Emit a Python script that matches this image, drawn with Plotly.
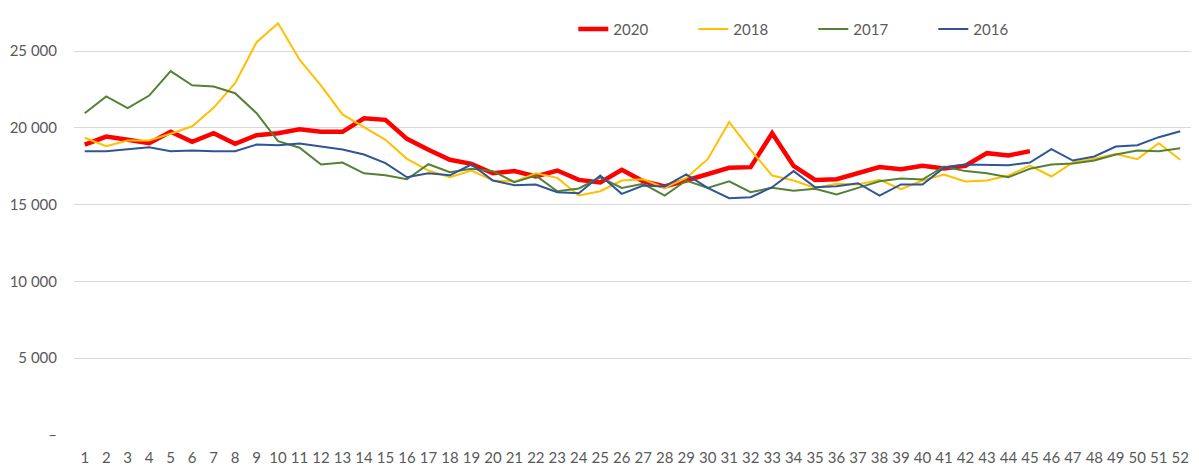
import plotly.graph_objects as go

weeks = [str(i) for i in range(1, 53)]

y2020 = [18910, 19430, 19220, 19000, 19740, 19090, 19650, 18960, 19520, 19650,
         19910, 19740, 19740, 20620, 20520, 19280, 18570, 17920, 17650, 17040,
         17180, 16830, 17220, 16610, 16440, 17270, 16520, 16180, 16570, 16960,
         17400, 17440, 19650, 17520, 16610, 16650, 17040, 17440, 17300, 17530,
         17350, 17530, 18350, 18200, 18480]

y2018 = [19350, 18800, 19170, 19170, 19610, 20100, 21300, 22900, 25570, 26810,
         24430, 22750, 20870, 20040, 19220, 17980, 17220, 16780, 17220, 16570,
         16500, 17040, 16740, 15590, 15870, 16570, 16650, 16090, 16740, 17960,
         20370, 18570, 16890, 16570, 16090, 16350, 16310, 16610, 16000, 16570,
         16960, 16500, 16570, 16890, 17545, 16830, 17740, 17980, 18300, 17960,
         19000, 17920]

y2017 = [20950, 22040, 21280, 22100, 23690, 22770, 22690, 22250, 20950, 19130,
         18700, 17610, 17740, 17040, 16910, 16650, 17630, 17110, 17330, 17180,
         16460, 16890, 15870, 16050, 16780, 16090, 16350, 15590, 16570, 16090,
         16520, 15810, 16090, 15900, 16030, 15660, 16090, 16520, 16700, 16630,
         17480, 17180, 17040, 16780, 17330, 17610, 17680, 17870, 18260, 18520,
         18480, 18670]

y2016 = [18480, 18480, 18610, 18740, 18480, 18520, 18480, 18480, 18910, 18870,
         18980, 18780, 18590, 18260, 17700, 16780, 17040, 16910, 17610, 16570,
         16260, 16310, 15810, 15740, 16890, 15700, 16240, 16180, 16960, 16090,
         15420, 15480, 16130, 17180, 16130, 16200, 16390, 15590, 16310, 16310,
         17400, 17610, 17570, 17570, 17740, 18610, 17870, 18130, 18780, 18870,
         19390, 19780]

tick_vals = [0, 5000, 10000, 15000, 20000, 25000]
tick_text = ["–", "5 000", "10 000", "15 000", "20 000", "25 000"]

series = [
    ("2020", y2020, "#FF0000", 4.5),
    ("2018", y2018, "#FFC000", 2),
    ("2017", y2017, "#548235", 2),
    ("2016", y2016, "#2F5597", 2),
]

fig = go.Figure()
for name, ys, color, w in series:
    fig.add_trace(go.Scatter(
        x=weeks[:len(ys)], y=ys, mode="lines", name=name,
        line=dict(color=color, width=w),
    ))

fig.update_layout(
    width=1191, height=462,
    margin=dict(l=66, r=8, t=0, b=35, autoexpand=False),
    paper_bgcolor="white", plot_bgcolor="white",
    font=dict(family="Lato, Open Sans, sans-serif", size=15, color="#595959"),
    showlegend=True,
    legend=dict(
        orientation="h", x=0.447, y=0.95, xanchor="left", yanchor="middle",
        entrywidth=75, entrywidthmode="pixels",
        font=dict(size=15, color="#595959"),
        bgcolor="rgba(0,0,0,0)", traceorder="normal",
    ),
    xaxis=dict(
        type="category", categoryorder="array", categoryarray=weeks,
        range=[-0.5, 51.5],
        showgrid=False, showline=False, zeroline=False,
        ticks="", ticklabelstandoff=12,
        tickfont=dict(size=15, color="#595959"),
    ),
    yaxis=dict(
        range=[0, 27800],
        tickvals=tick_vals, ticktext=tick_text,
        showgrid=True, gridcolor="#D9D9D9", gridwidth=1,
        zeroline=False, showline=False, ticks="",
        ticklabelstandoff=16,
        tickfont=dict(size=15, color="#595959"),
    ),
)

fig.write_html("out.html")
